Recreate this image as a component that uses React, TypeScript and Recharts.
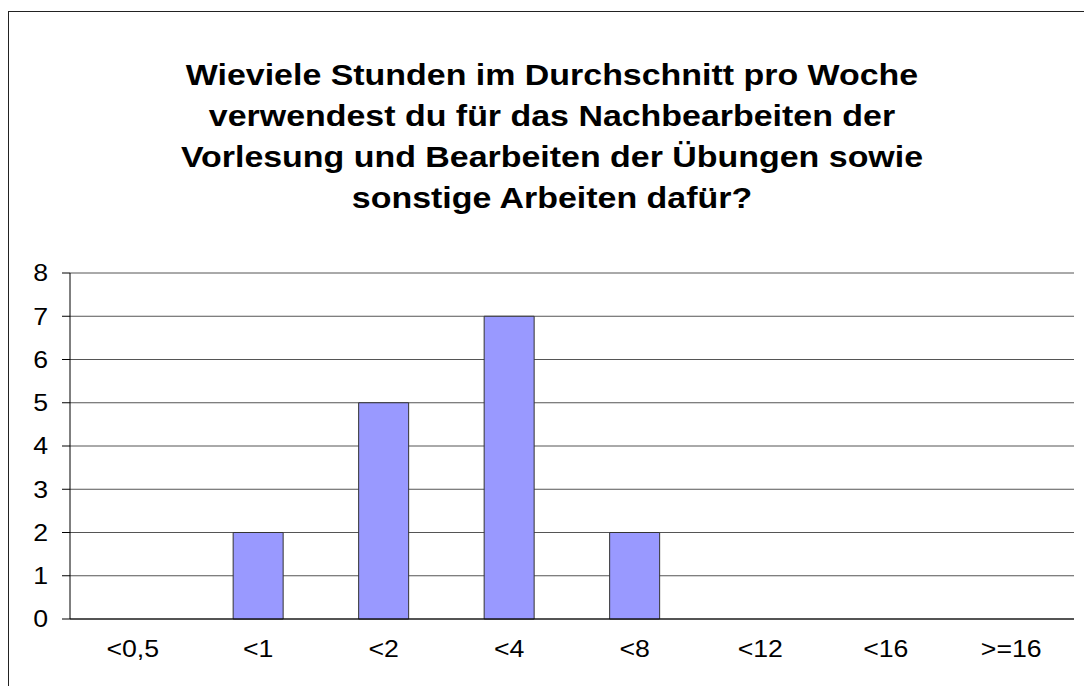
import { BarChart, Bar, XAxis, YAxis, CartesianGrid } from "recharts";

const categories = ["<0,5", "<1", "<2", "<4", "<8", "<12", "<16", ">=16"];
const counts = [0, 2, 5, 7, 2, 0, 0, 0];
const yTicks = [0, 1, 2, 3, 4, 5, 6, 7, 8];
const boundaryTicks = [0, 1, 2, 3, 4, 5, 6, 7, 8];

const titleLines = [
  "Wieviele Stunden im Durchschnitt pro Woche",
  "verwendest du für das Nachbearbeiten der",
  "Vorlesung und Bearbeiten der Übungen sowie",
  "sonstige Arbeiten dafür?",
];

const FONT = "Arial, 'Liberation Sans', sans-serif";
// the source picture is stretched sideways, so text is widened to match
const TICK_STRETCH = 1.16;
const TITLE_STRETCH = 1.17;

const data = categories.map((c, i) => ({ cat: c, idx: i + 0.5, value: counts[i] }));

function XTick(p: any) {
  return (
    <text
      transform={`translate(${p.x},${p.y + 30}) scale(${TICK_STRETCH},1)`}
      textAnchor="middle"
      fontSize={23}
      fontFamily={FONT}
      fill="#000"
    >
      {p.payload.value}
    </text>
  );
}

function YTick(p: any) {
  return (
    <text
      transform={`translate(${p.x},${p.y}) scale(${TICK_STRETCH},1)`}
      textAnchor="end"
      dy="0.36em"
      fontSize={23}
      fontFamily={FONT}
      fill="#000"
    >
      {p.payload.value}
    </text>
  );
}

export default function App() {
  return (
    <div
      style={{
        position: "fixed",
        left: 0,
        top: 0,
        width: 1084,
        height: 686,
        overflow: "hidden",
        background: "#fff",
        fontFamily: FONT,
      }}
    >
      {/* chart frame, only left and top edges are in view */}
      <div
        style={{
          position: "absolute",
          left: 8,
          top: 11,
          width: 1100,
          height: 700,
          borderLeft: "1px solid #222",
          borderTop: "1px solid #222",
        }}
      />
      <div
        style={{
          position: "absolute",
          left: 0,
          top: 55,
          width: 1104,
          textAlign: "center",
          fontWeight: "bold",
          fontSize: 29,
          lineHeight: "41px",
          color: "#000",
          transform: `scaleX(${TITLE_STRETCH})`,
          transformOrigin: "552px 0",
        }}
      >
        {titleLines.map((l) => (
          <div key={l}>{l}</div>
        ))}
      </div>
      <div style={{ position: "absolute", left: 0, top: 0 }}>
        <BarChart
          width={1084}
          height={686}
          data={data}
          margin={{ top: 273, right: 10, bottom: 26, left: 10 }}
          barCategoryGap="30%"
        >
          <CartesianGrid vertical={false} stroke="#555" strokeWidth={1} />
          <XAxis
            dataKey="cat"
            xAxisId="cat"
            height={41}
            axisLine={{ stroke: "#000" }}
            tickLine={false}
            interval={0}
            tick={XTick}
          />
          <XAxis
            xAxisId="edge"
            dataKey="idx"
            type="number"
            domain={[0, 8]}
            ticks={boundaryTicks}
            height={0}
            axisLine={false}
            tickSize={9}
            tickLine={{ stroke: "#000" }}
            tick={() => <g />}
          />
          <YAxis
            domain={[0, 8]}
            ticks={yTicks}
            width={60}
            interval={0}
            axisLine={{ stroke: "#000" }}
            tickLine={{ stroke: "#000" }}
            tickSize={8}
            tickMargin={14}
            tick={YTick}
          />
          <YAxis
            yAxisId="frame"
            orientation="right"
            width={0}
            domain={[0, 8]}
            axisLine={{ stroke: "#999" }}
            tickLine={false}
            tick={false}
          />
          <Bar
            dataKey="value"
            xAxisId="cat"
            fill="#9999FF"
            stroke="#333"
            strokeWidth={1}
            isAnimationActive={false}
          />
        </BarChart>
      </div>
    </div>
  );
}
